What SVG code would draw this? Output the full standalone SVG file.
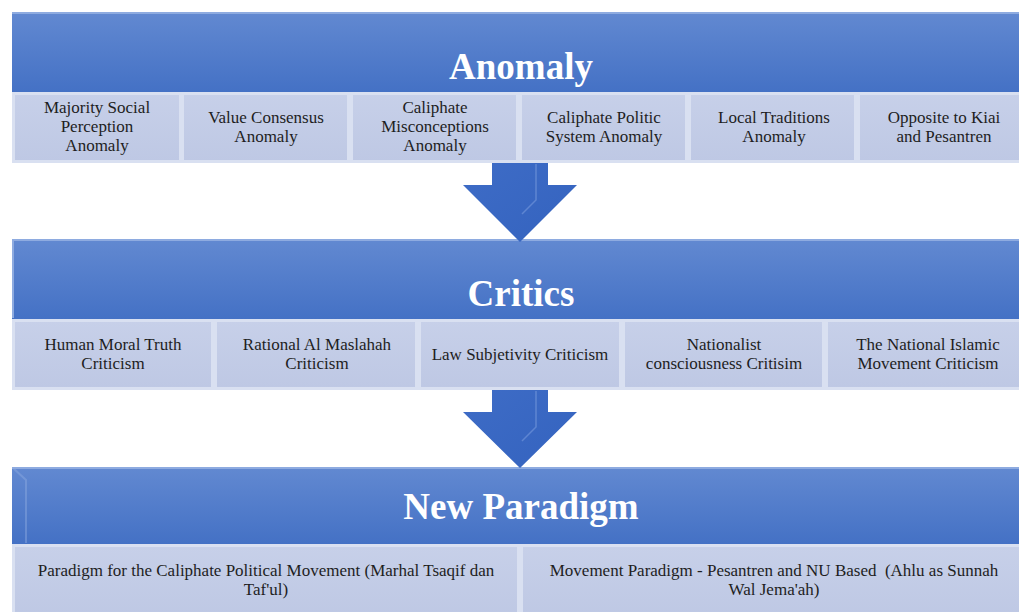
<svg xmlns="http://www.w3.org/2000/svg" width="1019" height="612" viewBox="0 0 1019 612">
  <defs>
    <linearGradient id="hdr" x1="0" y1="0" x2="0" y2="1">
      <stop offset="0" stop-color="#6289D1"/>
      <stop offset="1" stop-color="#4471C5"/>
    </linearGradient>
    <linearGradient id="cell" x1="0" y1="0" x2="0" y2="1">
      <stop offset="0" stop-color="#C7D0E9"/>
      <stop offset="1" stop-color="#BEC8E4"/>
    </linearGradient>
    <linearGradient id="arw" x1="0" y1="0" x2="1" y2="1">
      <stop offset="0" stop-color="#3E6CC6"/>
      <stop offset="1" stop-color="#3463BF"/>
    </linearGradient>
    <style>
      .hdr { fill: url(#hdr); }
      .hilite { fill: none; stroke: #8EABE0; stroke-width: 2; }
      .cell { fill: url(#cell); stroke: #D9E0F1; stroke-width: 3; }
      .title { font-family: "Liberation Serif", "Times New Roman", serif; font-weight: bold; font-size: 37px; fill: #FFFFFF; text-anchor: middle; }
      .lbl { font-family: "Liberation Serif", "Times New Roman", serif; font-size: 17px; fill: #1E1E1E; text-anchor: middle; white-space: pre; }
      .arrow { fill: url(#arw); }
      .shine { stroke: #6E93D8; stroke-width: 1.5; fill: none; opacity: 0.7; }
    </style>
  </defs>

  <rect width="1019" height="612" fill="#FFFFFF"/>

  <!-- Stage 1: Anomaly -->
  <g id="anomaly">
    <rect class="hdr" x="12" y="12" width="1020" height="80"/>
    <line class="hilite" x1="12" y1="13" x2="1019" y2="13"/>
    <text class="title" x="521" y="79">Anomaly</text>
  </g>
  <g id="anomaly-items">
    <g id="a1">
      <rect class="cell" x="13.5" y="93.5" width="167" height="68"/>
      <text class="lbl" x="97" y="113">Majority Social</text>
      <text class="lbl" x="97" y="132">Perception</text>
      <text class="lbl" x="97" y="151">Anomaly</text>
    </g>
    <g id="a2">
      <rect class="cell" x="182.5" y="93.5" width="166" height="68"/>
      <text class="lbl" x="266" y="123">Value Consensus</text>
      <text class="lbl" x="266" y="142">Anomaly</text>
    </g>
    <g id="a3">
      <rect class="cell" x="351.5" y="93.5" width="166" height="68"/>
      <text class="lbl" x="435" y="113">Caliphate</text>
      <text class="lbl" x="435" y="132">Misconceptions</text>
      <text class="lbl" x="435" y="151">Anomaly</text>
    </g>
    <g id="a4">
      <rect class="cell" x="520.5" y="93.5" width="166" height="68"/>
      <text class="lbl" x="604" y="123">Caliphate Politic</text>
      <text class="lbl" x="604" y="142">System Anomaly</text>
    </g>
    <g id="a5">
      <rect class="cell" x="689.5" y="93.5" width="166" height="68"/>
      <text class="lbl" x="774" y="123">Local Traditions</text>
      <text class="lbl" x="774" y="142">Anomaly</text>
    </g>
    <g id="a6">
      <rect class="cell" x="858.5" y="93.5" width="170" height="68"/>
      <text class="lbl" x="944" y="123">Opposite to Kiai</text>
      <text class="lbl" x="944" y="142">and Pesantren</text>
    </g>
  </g>

  <!-- Stage 2: Critics -->
  <g id="critics">
    <rect class="hdr" x="12" y="239" width="1020" height="80"/>
    <line class="hilite" x1="12" y1="240" x2="1019" y2="240"/>
    <line class="hilite" x1="13" y1="240" x2="13" y2="318"/>
    <text class="title" x="521" y="306">Critics</text>
  </g>
  <g id="critics-items">
    <g id="c1">
      <rect class="cell" x="13.5" y="320.5" width="199" height="68"/>
      <text class="lbl" x="113" y="350">Human Moral Truth</text>
      <text class="lbl" x="113" y="369">Criticism</text>
    </g>
    <g id="c2">
      <rect class="cell" x="215.5" y="320.5" width="201" height="68"/>
      <text class="lbl" x="317" y="350">Rational Al Maslahah</text>
      <text class="lbl" x="317" y="369">Criticism</text>
    </g>
    <g id="c3">
      <rect class="cell" x="419.5" y="320.5" width="201" height="68"/>
      <text class="lbl" x="520" y="360">Law Subjetivity Criticism</text>
    </g>
    <g id="c4">
      <rect class="cell" x="623.5" y="320.5" width="200" height="68"/>
      <text class="lbl" x="724" y="350">Nationalist</text>
      <text class="lbl" x="724" y="369">consciousness Critisim</text>
    </g>
    <g id="c5">
      <rect class="cell" x="826.5" y="320.5" width="202" height="68"/>
      <text class="lbl" x="928" y="350">The National Islamic</text>
      <text class="lbl" x="928" y="369">Movement Criticism</text>
    </g>
  </g>

  <!-- Stage 3: New Paradigm -->
  <g id="new-paradigm">
    <rect class="hdr" x="12" y="467" width="1020" height="77"/>
    <line class="hilite" x1="12" y1="468" x2="1019" y2="468"/>
    <path d="M13 468 L26 480 L26 543" class="hilite" stroke-opacity="0.45"/>
    <text class="title" x="521" y="519">New Paradigm</text>
  </g>
  <g id="paradigm-items">
    <g id="p1">
      <rect class="cell" x="13.5" y="545.5" width="505" height="72"/>
      <text class="lbl" x="266" y="576" font-size="17.5">Paradigm for the Caliphate Political Movement (Marhal Tsaqif dan</text>
      <text class="lbl" x="266" y="595" font-size="17.5">Taf'ul)</text>
    </g>
    <g id="p2">
      <rect class="cell" x="521.5" y="545.5" width="507" height="72"/>
      <text class="lbl" x="774" y="576" font-size="17.5" xml:space="preserve">Movement Paradigm - Pesantren and NU Based  (Ahlu as Sunnah</text>
      <text class="lbl" x="774" y="595" font-size="17.5">Wal Jema'ah)</text>
    </g>
  </g>

  <!-- Block arrows between stages -->
  <g id="connectors">
    <polygon class="arrow" points="492,163 548,163 548,185 577,185 520,242 463,185 492,185"/>
    <polyline class="shine" points="536,164 536,200 522,214"/>
    <polygon class="arrow" points="492,390 548,390 548,412 577,412 520,468 463,412 492,412"/>
    <polyline class="shine" points="536,391 536,427 522,441"/>
  </g>
</svg>
